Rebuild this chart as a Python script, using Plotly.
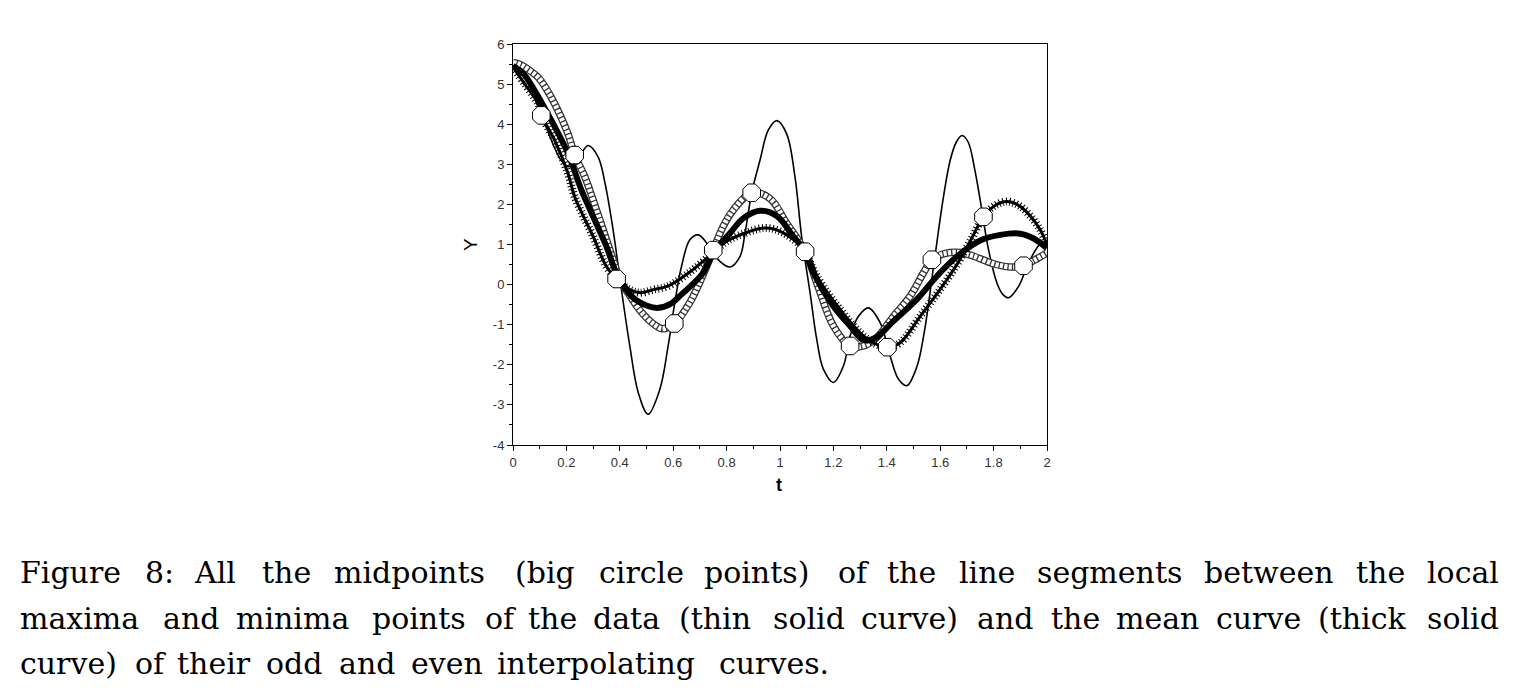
import plotly.graph_objects as go

# data curve (thin solid)
t_data = [0.0, 0.03, 0.06, 0.09, 0.12, 0.15, 0.18, 0.21, 0.245, 0.281, 0.319, 0.344,
          0.375, 0.406, 0.4375, 0.469, 0.506, 0.55, 0.581, 0.606, 0.631, 0.6625, 0.694,
          0.731, 0.775, 0.8125, 0.85, 0.869, 0.894, 0.925, 0.956, 0.988, 1.025, 1.056,
          1.081, 1.1125, 1.1375, 1.1625, 1.2, 1.2375, 1.2625, 1.294, 1.331, 1.375, 1.4125,
          1.444, 1.475, 1.5125, 1.54, 1.575, 1.6125, 1.6375, 1.66, 1.682, 1.705, 1.73,
          1.75, 1.781, 1.8125, 1.835, 1.856, 1.894, 1.925, 1.956, 1.98, 2.0]
y_data = [5.5, 5.35, 5.0, 4.5, 4.0, 3.5, 3.1, 2.94, 3.15, 3.47, 3.18, 2.55,
          1.36, -0.12, -1.53, -2.69, -3.23, -2.61, -1.53, -0.45, 0.45, 1.12, 1.24,
          0.99, 0.58, 0.44, 0.7, 1.28, 2.29, 3.1, 3.85, 4.09, 3.76, 2.69,
          1.2, -0.2, -1.36, -2.11, -2.44, -2.03, -1.28, -0.79, -0.58, -0.95, -1.78,
          -2.36, -2.52, -2.05, -1.2, 0.45, 2.2, 3.1, 3.55, 3.72, 3.55, 2.85,
          2.1, 0.87, 0.04, -0.25, -0.33, -0.04, 0.45, 0.85, 1.05, 1.05]

# interpolating curve through the even midpoints (open squares)
t_even = [0.0, 0.03, 0.06, 0.094, 0.125, 0.156, 0.206, 0.231, 0.269, 0.3, 0.375, 0.4,
          0.43, 0.48, 0.53, 0.56, 0.604, 0.662, 0.725, 0.787, 0.825, 0.894, 0.962, 1.025,
          1.094, 1.14, 1.2, 1.2625, 1.3125, 1.3625, 1.425, 1.4875, 1.537, 1.569, 1.62,
          1.675, 1.72, 1.8, 1.86, 1.912, 1.95, 2.0]
y_even = [5.54, 5.48, 5.35, 5.17, 4.88, 4.51, 3.76, 3.23, 2.69, 2.11, 0.62, 0.12,
          -0.2, -0.68, -1.0, -1.1, -0.97, -0.45, 0.45, 1.45, 1.86, 2.29, 2.15, 1.53,
          0.83, 0.0, -1.03, -1.53, -1.53, -1.32, -0.79, -0.29, 0.29, 0.62, 0.78,
          0.8, 0.72, 0.52, 0.44, 0.47, 0.6, 0.79]

# interpolating curve through the odd midpoints (stars)
t_odd = [0.0, 0.044, 0.094, 0.106, 0.156, 0.206, 0.231, 0.3, 0.35, 0.388, 0.43, 0.475,
         0.53, 0.58, 0.66, 0.75, 0.8, 0.875, 0.9375, 0.98, 1.025, 1.075, 1.094, 1.1375,
         1.225, 1.3, 1.35, 1.402, 1.45, 1.525, 1.6, 1.6625, 1.71, 1.762, 1.8, 1.85,
         1.9, 1.94, 1.975, 2.0]
y_odd = [5.42, 5.0, 4.51, 4.22, 3.6, 2.77, 2.19, 1.2, 0.45, 0.14, -0.1, -0.2,
         -0.12, -0.04, 0.3, 0.8, 1.08, 1.3, 1.41, 1.38, 1.24, 0.99, 0.83, 0.21,
         -0.62, -1.2, -1.45, -1.57, -1.45, -0.79, -0.12, 0.5, 1.05, 1.69, 1.95, 2.07,
         1.95, 1.69, 1.36, 1.0]

# mean curve (thick solid)
t_mean = [0.0, 0.04, 0.081, 0.144, 0.206, 0.256, 0.3, 0.35, 0.39, 0.45, 0.5, 0.544,
          0.59, 0.63, 0.712, 0.75, 0.8125, 0.862, 0.925, 0.988, 1.05, 1.094, 1.125,
          1.2, 1.2625, 1.3125, 1.36, 1.425, 1.5125, 1.5875, 1.6625, 1.75, 1.825, 1.9,
          1.95, 2.0]
y_mean = [5.46, 5.25, 4.84, 4.09, 3.27, 2.36, 1.7, 0.95, 0.25, -0.33, -0.52, -0.58,
          -0.48, -0.25, 0.29, 0.8, 1.28, 1.65, 1.84, 1.71, 1.2, 0.83, 0.3,
          -0.54, -1.03, -1.38, -1.32, -0.91, -0.37, 0.21, 0.7, 1.1, 1.24, 1.27,
          1.15, 0.91]

# midpoints of the max/min segments (big circles)
t_mid = [0.106, 0.231, 0.388, 0.604, 0.75, 0.894, 1.094, 1.2625, 1.402, 1.569, 1.762, 1.912]
y_mid = [4.22, 3.23, 0.14, -0.97, 0.86, 2.29, 0.82, -1.53, -1.56, 0.62, 1.69, 0.47]

x_ticks = [0, 0.2, 0.4, 0.6, 0.8, 1, 1.2, 1.4, 1.6, 1.8, 2]
x_ticktext = ["0", "0.2", "0.4", "0.6", "0.8", "1", "1.2", "1.4", "1.6", "1.8", "2"]
y_ticks = [-4, -3, -2, -1, 0, 1, 2, 3, 4, 5, 6]
y_ticktext = ["-4", "-3", "-2", "-1", "0", "1", "2", "3", "4", "5", "6"]

caption_lines = [
    "Figure 8: All the midpoints (big circle points) of the line segments between the local",
    "maxima and minima points of the data (thin solid curve) and the mean curve (thick solid",
    "curve) of their odd and even interpolating curves.",
]

# the page puts the figure 8px in from the corner, so work in shifted pixels
OFF = 8
W, H = 1526, 700
L, R, T, B = 513 - OFF, 1047 - OFF, 44 - OFF, 445 - OFF   # plot area


def px(x):
    return (x - OFF - L) / (R - L)


def py(y):
    return (B - (y - OFF)) / (B - T)


fig = go.Figure()

fig.add_trace(go.Scatter(x=t_data, y=y_data, mode="lines", line_shape="spline",
                         line=dict(color="black", width=1.6), showlegend=False))

# open squares chain
fig.add_trace(go.Scatter(x=t_even, y=y_even, mode="lines", line_shape="spline",
                         line=dict(color="#333", width=7.5), showlegend=False))
fig.add_trace(go.Scatter(x=t_even, y=y_even, mode="lines", line_shape="spline",
                         line=dict(color="white", width=5, dash="3.2px,1.3px"), showlegend=False))

# stars
fig.add_trace(go.Scatter(x=t_odd, y=y_odd, mode="lines", line_shape="spline",
                         line=dict(color="black", width=3), showlegend=False))
fig.add_trace(go.Scatter(x=t_odd, y=y_odd, mode="lines", line_shape="spline",
                         line=dict(color="black", width=8, dash="1px,2.5px"), showlegend=False))

# mean
fig.add_trace(go.Scatter(x=t_mean, y=y_mean, mode="lines", line_shape="spline",
                         line=dict(color="black", width=6), showlegend=False))

fig.add_trace(go.Scatter(x=t_mid, y=y_mid, mode="markers",
                         marker=dict(symbol="octagon", size=19, color="white",
                                     line=dict(color="black", width=1)),
                         showlegend=False))

axis_common = dict(showline=True, linecolor="black", linewidth=1, mirror=True,
                   showgrid=False, zeroline=False, ticks="outside", tickcolor="black",
                   tickfont=dict(family="Liberation Sans", size=13, color="#333"))

fig.update_xaxes(range=[0, 2], tickvals=x_ticks, ticktext=x_ticktext, ticklen=5,
                 minor=dict(ticks="outside", ticklen=3, dtick=0.1, tickcolor="black"),
                 **axis_common)
fig.update_yaxes(range=[-4, 6], tickvals=y_ticks, ticktext=y_ticktext, ticklen=5,
                 minor=dict(ticks="outside", ticklen=3, dtick=0.5, tickcolor="black"),
                 **axis_common)

annotations = [
    dict(text="<b>t</b>", x=px(779), y=py(485), xref="paper", yref="paper",
         xanchor="center", yanchor="middle",
         showarrow=False, font=dict(family="Liberation Sans", size=18, color="black")),
    dict(text="Y", x=px(470), y=py(245), xref="paper", yref="paper", textangle=-90,
         xanchor="center", yanchor="middle",
         showarrow=False, font=dict(family="Liberation Sans", size=19, color="black")),
]

# caption, justified word by word like the LaTeX original
cm = {"a": .5, "b": .556, "c": .444, "d": .556, "e": .444, "f": .306, "g": .5, "h": .556,
      "i": .278, "k": .528, "l": .278, "m": .833, "n": .556, "o": .5, "p": .556, "r": .392,
      "s": .394, "t": .389, "u": .556, "v": .528, "w": .722, "x": .528, "y": .528,
      "(": .389, ")": .389, ":": .278, ".": .278, "8": .5, "F": .653, "A": .75}
em = 37.25
left, right = 18, 1500
mids = [572, 618, 663]
for i, line in enumerate(caption_lines):
    words = line.split()
    widths = [sum(cm[c] for c in w) * em for w in words]
    if i < 2:
        gap = (right - left - sum(widths)) / (len(words) - 1)
    else:
        gap = 0.333 * em
    x = left
    for w, wd in zip(words, widths):
        annotations.append(dict(text=w, x=px(x), y=py(mids[i]), xref="paper",
                                yref="paper", xanchor="left", yanchor="middle",
                                showarrow=False,
                                font=dict(family="DejaVu Serif", size=30, color="black")))
        x += wd + gap

fig.update_layout(width=W, height=H, margin=dict(l=L, r=W - R, t=T, b=H - B),
                  paper_bgcolor="white", plot_bgcolor="white",
                  annotations=annotations)

fig.write_html("out.html")
